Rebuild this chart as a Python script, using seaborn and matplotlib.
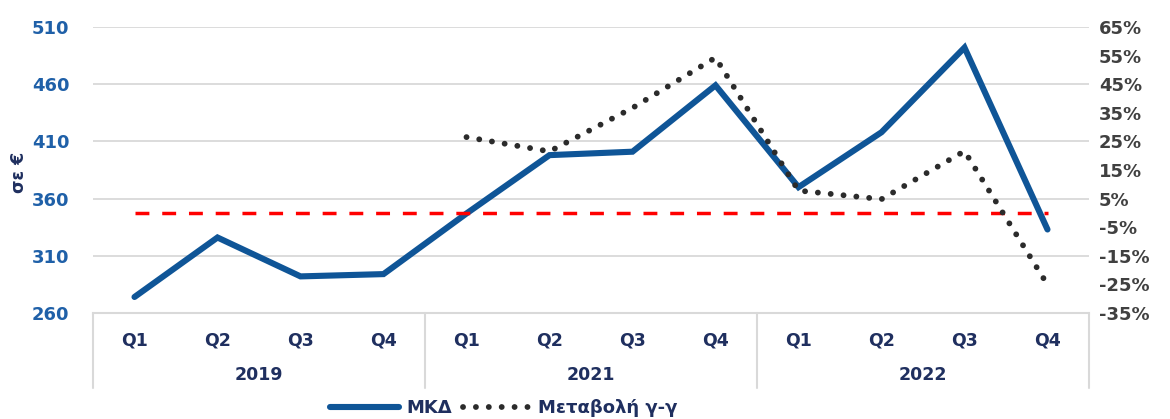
import numpy as np
import pandas as pd
import matplotlib
matplotlib.use("Agg")
import matplotlib.pyplot as plt
import seaborn as sns

# Data
quarters = ["Q1", "Q2", "Q3", "Q4"] * 3
years = ["2019", "2021", "2022"]
mkd = [274, 326, 292, 294, 347, 398, 401, 459, 370, 418, 492, 333]          # σε €
yoy = [np.nan, np.nan, np.nan, np.nan, 26.5, 21.5, 36.7, 54.3, 7.8, 4.8, 21.6, -25.1]  # %
zero_line = [0] * 12

df = pd.DataFrame({"pos": range(12), "mkd": mkd, "yoy": yoy, "zero": zero_line})

sns.set_theme(style="white")
plt.rcParams["font.family"] = ["DejaVu Sans"]
plt.rcParams["font.weight"] = "bold"

blue = "#0F5597"
tick_blue = "#1F60A8"
navy = "#1F2F5F"
dark = "#2B2B2B"
grid_c = "#D9D9D9"

fig = plt.figure(figsize=(11.7, 4.19), dpi=100)
ax = fig.add_axes([93 / 1170, 1 - 313 / 419, (1089 - 93) / 1170, 286 / 419])
ax2 = ax.twinx()

# left axis: ΜΚΔ
ax.set_ylim(260, 510)
ax.set_yticks(range(260, 511, 50))
ax.set_xlim(-0.5, 11.5)
for y in range(310, 511, 50):
    ax.axhline(y, color=grid_c, lw=1.3, zorder=0)
sns.lineplot(data=df, x="pos", y="mkd", ax=ax, color=blue, lw=4.4,
             solid_capstyle="round", solid_joinstyle="miter", legend=False, zorder=3)
h_mkd = ax.lines[-1]

# right axis: y-y change and zero reference (drawn above the blue line)
ax2.set_ylim(-35, 65)
ax2.set_yticks(range(-35, 66, 10))
sns.lineplot(data=df, x="pos", y="zero", ax=ax2, color="#FF0000", lw=2.5,
             legend=False, zorder=2)
ax2.lines[-1].set_dashes((4, 3.7))
sns.lineplot(data=df, x="pos", y="yoy", ax=ax2, color=dark, lw=4.2,
             legend=False, zorder=4)
h_yoy = ax2.lines[-1]
h_yoy.set_dashes((0.01, 2.2))
h_yoy.set_dash_capstyle("round")
ax2.set_xlim(-0.5, 11.5)

for a in (ax, ax2):
    for s in a.spines.values():
        s.set_visible(False)
    a.set_xlabel("")
    a.set_ylabel("")
ax.spines["bottom"].set_visible(True)
ax.spines["bottom"].set_color(grid_c)
ax.spines["bottom"].set_linewidth(1.5)

ax.set_xticks(range(12))
ax.set_xticklabels(quarters, fontsize=12.5, fontweight="bold", color=navy)
ax.tick_params(axis="x", length=0, pad=13)
ax.tick_params(axis="y", length=0, pad=17, labelsize=13, labelcolor=tick_blue)
for t in ax.get_yticklabels():
    t.set_fontweight("bold")
ax2.tick_params(axis="y", length=0, pad=7, labelsize=13, labelcolor="#404040")
ax2.set_yticklabels([f"{v}%" for v in range(-35, 66, 10)], fontweight="bold")

# year group labels and separators
trans = ax.get_xaxis_transform()
for i, yr in enumerate(years):
    ax.text(4 * i + 1.5, -62 / 286, yr, transform=trans, ha="center", va="center",
            fontsize=12.5, fontweight="bold", color=navy)
for xs in [-0.5, 3.5, 7.5, 11.5]:
    ax.plot([xs, xs], [0, -75 / 286], transform=trans, color=grid_c, lw=1.5, clip_on=False)

fig.text(19 / 1170, 1 - 172 / 419, "σε €", rotation=90, ha="center", va="center",
         fontsize=12.5, fontweight="bold", color=navy)

# legend
leg = fig.legend([h_mkd, h_yoy], ["ΜΚΔ", "Μεταβολή γ-γ"], loc="center",
                 bbox_to_anchor=(504 / 1170, 1 - 408 / 419), ncol=2, frameon=False,
                 handlelength=3.8, handletextpad=0.4, columnspacing=0.6,
                 prop={"weight": "bold", "size": 13})
for t in leg.get_texts():
    t.set_color(navy)

fig.savefig("out.png", dpi=100)
